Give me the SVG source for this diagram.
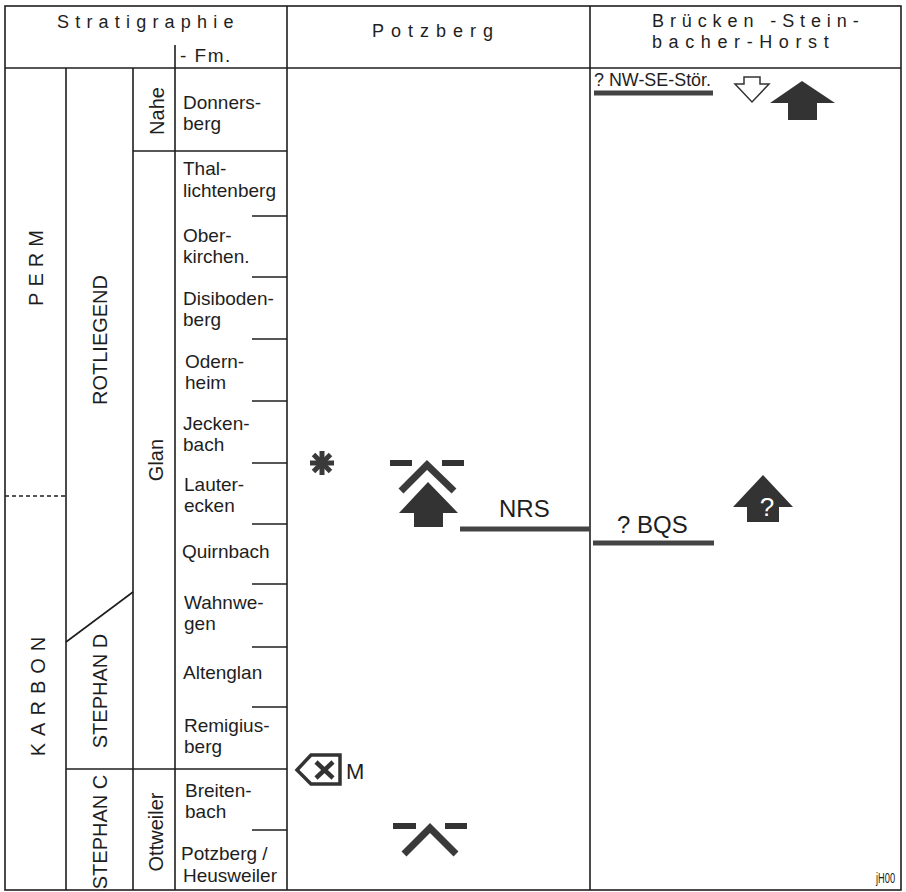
<svg xmlns="http://www.w3.org/2000/svg" width="906" height="892" viewBox="0 0 906 892">
<style>
text{font-family:"Liberation Sans",Arial,sans-serif;fill:#1e1e1e}
.ln{stroke:#1e1e1e;stroke-width:1.6;fill:none}
.fm{font-size:19px}
.hd{font-size:18px}
.rot{font-size:20px;text-anchor:middle}
.sym{fill:#333}
.thick{stroke:#3a3a3a;fill:none}
.big{font-size:24px}
</style>
<rect width="906" height="892" fill="#fff"/>
<g id="frame">
<rect class="ln" x="5" y="6" width="896" height="884"/>
<line class="ln" x1="5" y1="68" x2="901" y2="68"/>
<line class="ln" x1="287" y1="6" x2="287" y2="890"/>
<line class="ln" x1="590" y1="6" x2="590" y2="890"/>
<line class="ln" x1="66" y1="68" x2="66" y2="890"/>
<line class="ln" x1="133" y1="68" x2="133" y2="890"/>
<line class="ln" x1="175" y1="45" x2="175" y2="890"/>
<line class="ln" x1="133" y1="151" x2="287" y2="151"/>
<line class="ln" x1="66" y1="769" x2="287" y2="769"/>
<line class="ln" x1="66" y1="642" x2="133" y2="592"/>
<line class="ln" x1="5" y1="496" x2="66" y2="496" stroke-dasharray="4 3"/>
<g>
<line class="ln" x1="252" y1="216" x2="287" y2="216"/>
<line class="ln" x1="252" y1="277" x2="287" y2="277"/>
<line class="ln" x1="252" y1="339" x2="287" y2="339"/>
<line class="ln" x1="252" y1="401" x2="287" y2="401"/>
<line class="ln" x1="252" y1="463" x2="287" y2="463"/>
<line class="ln" x1="252" y1="524" x2="287" y2="524"/>
<line class="ln" x1="252" y1="584" x2="287" y2="584"/>
<line class="ln" x1="252" y1="647" x2="287" y2="647"/>
<line class="ln" x1="252" y1="707" x2="287" y2="707"/>
<line class="ln" x1="252" y1="830" x2="287" y2="830"/>
</g>
</g>
<g id="headers">
<text class="hd" x="57" y="28" letter-spacing="6.2">Stratigraphie</text>
<text x="180" y="62" font-size="19" letter-spacing="1.5">- Fm.</text>
<text class="hd" x="372" y="37" letter-spacing="7">Potzberg</text>
<text class="hd" x="652" y="27" letter-spacing="5.9">Brücken -Stein-</text>
<text class="hd" x="652" y="48" letter-spacing="6.6">bacher-Horst</text>
</g>
<g id="periods">
<text class="rot" transform="translate(43,265) rotate(-90)" letter-spacing="6">PERM</text>
<text class="rot" transform="translate(45,693) rotate(-90)" letter-spacing="7">KARBON</text>
<text class="rot" transform="translate(107,340) rotate(-90)" font-size="19">ROTLIEGEND</text>
<text class="rot" transform="translate(107,691) rotate(-90)" font-size="19">STEPHAN D</text>
<text class="rot" transform="translate(107,832) rotate(-90)" font-size="19">STEPHAN C</text>
<text class="rot" transform="translate(164,111) rotate(-90)">Nahe</text>
<text class="rot" transform="translate(163,460) rotate(-90)" font-size="21">Glan</text>
<text class="rot" transform="translate(163,832) rotate(-90)" font-size="21">Ottweiler</text>
</g>
<g id="formations" class="fm">
<text class="fm" x="183" y="109">Donners-</text><text class="fm" x="183" y="130">berg</text>
<text class="fm" x="183" y="175">Thal-</text><text class="fm" x="183" y="197">lichtenberg</text>
<text class="fm" x="183" y="242">Ober-</text><text class="fm" x="183" y="263">kirchen.</text>
<text class="fm" x="183" y="305">Disiboden-</text><text class="fm" x="183" y="326">berg</text>
<text class="fm" x="185" y="368">Odern-</text><text class="fm" x="185" y="389">heim</text>
<text class="fm" x="183" y="430">Jecken-</text><text class="fm" x="183" y="451">bach</text>
<text class="fm" x="184" y="491">Lauter-</text><text class="fm" x="184" y="512">ecken</text>
<text class="fm" x="182" y="558">Quirnbach</text>
<text class="fm" x="184" y="609">Wahnwe-</text><text class="fm" x="184" y="630">gen</text>
<text class="fm" x="183" y="679">Altenglan</text>
<text class="fm" x="184" y="732">Remigius-</text><text class="fm" x="184" y="753">berg</text>
<text class="fm" x="185" y="797">Breiten-</text><text class="fm" x="185" y="818">bach</text>
<text class="fm" x="181" y="860">Potzberg /</text><text class="fm" x="183" y="882">Heusweiler</text>
</g>
<g id="potzberg-asterisk">
<g class="thick" stroke-width="5" stroke="#333">
<line x1="310" y1="463" x2="334" y2="463"/>
<line x1="322" y1="451" x2="322" y2="475"/>
<line x1="313.5" y1="454.5" x2="330.5" y2="471.5"/>
<line x1="330.5" y1="454.5" x2="313.5" y2="471.5"/>
</g>
</g>
<g id="potzberg-uplift">
<rect class="sym" x="390" y="460" width="22" height="6"/>
<rect class="sym" x="442" y="460" width="22" height="6"/>
<polyline class="thick" stroke-width="7" points="401,491 427,465 454,491"/>
<polygon class="sym" points="428,482 458,513 443,513 443,527 414,527 414,513 399,513"/>
</g>
<g id="nrs">
<line x1="460" y1="529" x2="590" y2="529" stroke="#444" stroke-width="5"/>
<text class="big" x="499" y="517">NRS</text>
</g>
<g id="bqs">
<line x1="593" y1="543" x2="714" y2="543" stroke="#444" stroke-width="5"/>
<text class="big" x="617" y="533">? BQS</text>
</g>
<g id="bruecken-uplift-q">
<polygon class="sym" points="763,475 793,507 779,507 779,522 747,522 747,507 733,507"/>
<text x="767" y="516" font-size="26" text-anchor="middle" style="fill:#fff">?</text>
</g>
<g id="nwse">
<text x="594" y="86" font-size="18" textLength="117" lengthAdjust="spacingAndGlyphs">? NW-SE-Stör.</text>
<line x1="594" y1="93" x2="713" y2="93" stroke="#444" stroke-width="5"/>
</g>
<g id="bruecken-down">
<polygon points="744,77 760,77 760,84 769,84 752,102 735,84 744,84" fill="#fff" stroke="#333" stroke-width="1.5"/>
</g>
<g id="bruecken-up">
<polygon class="sym" points="802,81 835,103 817,103 817,120 788,120 788,103 770,103"/>
</g>
<g id="marker-m">
<polygon points="297,770 311,755 340,755 340,784 311,784" fill="#fff" stroke="#333" stroke-width="3.5"/>
<line x1="316" y1="762" x2="333" y2="778" stroke="#333" stroke-width="4.5"/>
<line x1="333" y1="762" x2="316" y2="778" stroke="#333" stroke-width="4.5"/>
<text x="346" y="779" font-size="22">M</text>
</g>
<g id="potzberg-lower">
<rect class="sym" x="393" y="823" width="23" height="6"/>
<rect class="sym" x="445" y="823" width="22" height="6"/>
<polyline class="thick" stroke-width="7" points="404,854 430,828 456,854"/>
</g>
<text transform="translate(876,883) scale(0.62,1)" font-size="15">jH00</text>
</svg>
